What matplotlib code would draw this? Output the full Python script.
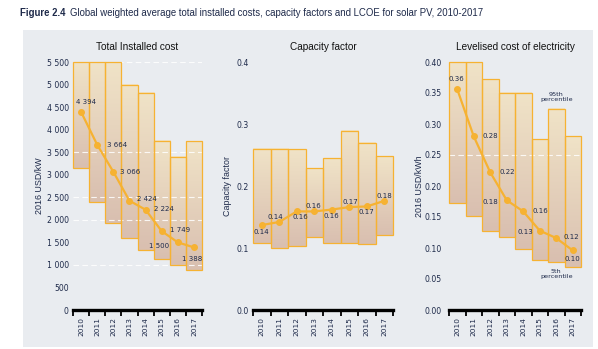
import numpy as np
import matplotlib
matplotlib.use('Agg')
import matplotlib.pyplot as plt
from matplotlib.colors import LinearSegmentedColormap
from matplotlib.patches import Rectangle

# ---------------- data ----------------
years = ['2010', '2011', '2012', '2013', '2014', '2015', '2016', '2017']

cost_avg = [4394, 3664, 3066, 2424, 2224, 1749, 1500, 1388]
cost_p95 = [5500, 5500, 5500, 5000, 4820, 3750, 3400, 3750]
cost_p5 = [3150, 2400, 1930, 1590, 1330, 1130, 1000, 890]
cost_ticks = [0, 500, 1000, 1500, 2000, 2500, 3000, 3500, 4000, 4500, 5000, 5500]

cf_avg = [0.137, 0.142, 0.159, 0.159, 0.162, 0.166, 0.167, 0.176]
cf_p95 = [0.260, 0.260, 0.260, 0.229, 0.245, 0.289, 0.269, 0.248]
cf_p5 = [0.108, 0.100, 0.104, 0.118, 0.108, 0.108, 0.106, 0.121]
cf_ticks = [0.0, 0.1, 0.2, 0.3, 0.4]

lcoe_avg = [0.356, 0.280, 0.222, 0.177, 0.159, 0.128, 0.116, 0.096]
lcoe_p95 = [0.400, 0.400, 0.372, 0.350, 0.350, 0.276, 0.324, 0.281]
lcoe_p5 = [0.173, 0.152, 0.128, 0.117, 0.098, 0.081, 0.077, 0.070]
lcoe_ticks = [0.00, 0.05, 0.10, 0.15, 0.20, 0.25, 0.30, 0.35, 0.40]

# ---------------- style ----------------
W, H = 598, 349
ORANGE = '#f6b232'
NAVY = '#1e2a4a'
BG = '#e9ecf0'
NARROW = ['Liberation Sans', 'DejaVu Sans']
plt.rcParams['font.family'] = ['DejaVu Sans']

fig = plt.figure(figsize=(W / 100, H / 100), dpi=100)
fig.patch.set_facecolor('white')


def fx(px):
    return px / W


def fy(py):
    return 1 - py / H


fig.patches.append(Rectangle((fx(23), fy(347)), (593 - 23) / W, (347 - 30) / H,
                             transform=fig.transFigure, facecolor=BG,
                             edgecolor='none', zorder=-10))

cmap = LinearSegmentedColormap.from_list('g', ['#d9bfb0', '#f0e3c7'])
grad = np.linspace(0, 1, 100).reshape(-1, 1)

# label offsets (pixels) and alignments for each panel
off1 = [(5, 10, 'center'), (10, 0, 'left'), (7, 0, 'left'), (8, 2, 'left'),
        (8, 1, 'left'), (8, 1, 'left'), (-9, -4, 'right'), (-2, -12, 'center')]
off2 = [(0, -7, 'center'), (-4, 5, 'center'), (4, -6, 'center'), (-1, 5, 'center'),
        (0, -6, 'center'), (1, 5, 'center'), (0, -6, 'center'), (0, 5, 'center')]
off3 = [(-1, 10, 'center'), (9, 0, 'left'), (9, 0, 'left'), (-9, -2, 'right'),
        (9, 0, 'left'), (-7, -1, 'right'), (7, 1, 'left'), (0, -9, 'center')]


def fmt_cost(v):
    return f'{int(round(v)):,}'.replace(',', ' ')


def make_panel(x0, x1, avg, lo, hi, ticks, tickfmt, labfmt, offs, grid, title,
               ylabel, ylabel_x, ypad):
    ax = fig.add_axes([fx(x0), fy(310), (x1 - x0) / W, (310 - 62) / H])
    ax.set_facecolor('none')
    x = np.arange(len(years))
    for xi, l, h in zip(x, lo, hi):
        ax.imshow(grad, extent=(xi - 0.5, xi + 0.5, l, h), origin='lower',
                  cmap=cmap, aspect='auto', zorder=1, interpolation='bilinear')
    bars = ax.bar(x, np.array(hi) - np.array(lo), bottom=lo, width=1.0,
                  fill=False, edgecolor=ORANGE, linewidth=0.9, zorder=2)
    for b in bars:
        b.set_clip_on(False)
    for g in grid:
        ax.axhline(g, color='white', lw=0.8, ls=(0, (5, 3)), alpha=0.85, zorder=1.5)
    ax.plot(x, avg, color=ORANGE, lw=1.6, marker='o', ms=4, zorder=4,
            clip_on=False)
    for xi, v, (dx, dy, ha) in zip(x, avg, offs):
        ax.annotate(labfmt(v), (xi, v), xytext=(dx, dy), textcoords='offset pixels',
                    ha=ha, va='center', fontsize=5, color=NAVY, zorder=5)
    ax.set_xlim(-0.5, len(years) - 0.5)
    ax.set_ylim(ticks[0], ticks[-1])
    ax.set_yticks(ticks)
    ax.set_yticklabels([tickfmt(t) for t in ticks])
    ax.tick_params(axis='y', length=0, pad=ypad, labelsize=5.6, labelcolor=NAVY)
    ax.set_xticks(np.arange(-0.5, len(years), 1.0))
    ax.set_xticklabels([])
    ax.tick_params(axis='x', which='major', length=4, width=1.3, color='black')
    ax.set_xticks(x, minor=True)
    ax.set_xticklabels(years, minor=True, rotation=90, fontsize=5.3, color=NAVY)
    ax.tick_params(axis='x', which='minor', length=0, pad=5)
    for s in ['top', 'left', 'right']:
        ax.spines[s].set_visible(False)
    ax.spines['bottom'].set_linewidth(2.4)
    ax.spines['bottom'].set_color('black')
    ax.spines['bottom'].set_zorder(6)
    cx = (x0 + x1) / 2
    fig.text(fx(cx), fy(47), title, ha='center', va='center', fontsize=7.2,
             color='#111111', family=NARROW)
    fig.text(fx(ylabel_x), fy(186), ylabel, ha='center', va='center',
             rotation=90, fontsize=6.4, color=NAVY, family=NARROW)
    return ax


ax1 = make_panel(73, 202, cost_avg, cost_p5, cost_p95, cost_ticks, fmt_cost,
                 fmt_cost, off1, [1000, 2000, 2500, 3500, 5500],
                 'Total Installed cost', '2016 USD/kW', 39, 3)
ax2 = make_panel(253, 393, cf_avg, cf_p5, cf_p95, cf_ticks,
                 lambda t: f'{t:.1f}', lambda v: f'{v:.2f}', off2, [],
                 'Capacity factor', 'Capacity factor', 228, 3)
ax3 = make_panel(449, 581, lcoe_avg, lcoe_p5, lcoe_p95, lcoe_ticks,
                 lambda t: f'{t:.2f}', lambda v: f'{v:.2f}', off3, [0.25],
                 'Levelised cost of electricity', '2016 USD/kWh', 420, 5)

ax3.text(6, lcoe_p95[6] + 0.019, '95th\npercentile', ha='center', va='center',
         fontsize=4.6, color=NAVY, linespacing=1.0)
ax3.text(6, lcoe_p5[6] - 0.019, '5th\npercentile', ha='center', va='center',
         fontsize=4.6, color=NAVY, linespacing=1.0)

# figure title
t1 = fig.text(fx(20), fy(13), 'Figure 2.4', ha='left', va='center', fontsize=6.9,
              weight='bold', color=NAVY, family=NARROW)
fig.canvas.draw()
bb = t1.get_window_extent(fig.canvas.get_renderer())
fig.text(bb.x1 / W + fx(4), fy(13),
         'Global weighted average total installed costs, capacity factors and LCOE for solar PV, 2010-2017',
         ha='left', va='center', fontsize=6.9, color=NAVY, family=NARROW)

fig.savefig('out.png', dpi=100)
